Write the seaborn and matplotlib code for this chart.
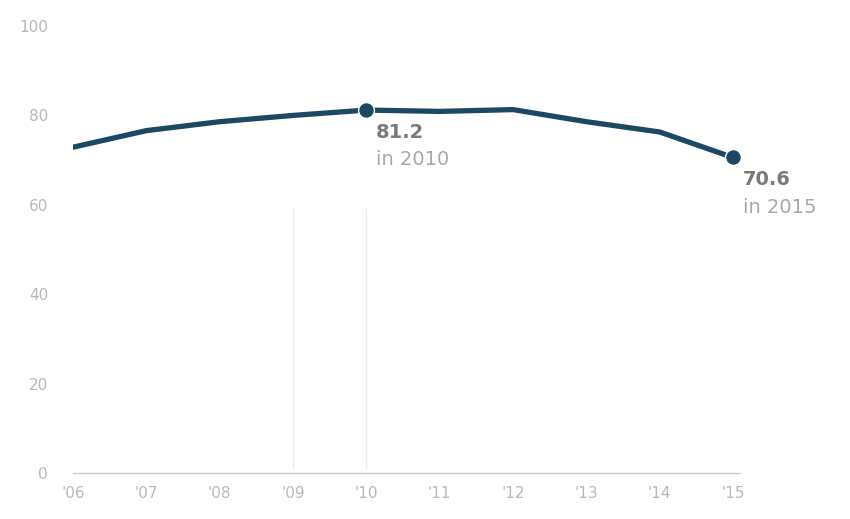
import matplotlib
matplotlib.use("Agg")
import matplotlib.pyplot as plt
import seaborn as sns
import pandas as pd

years = [2006, 2007, 2008, 2009, 2010, 2011, 2012, 2013, 2014, 2015]
values = [72.9, 76.6, 78.6, 80.0, 81.2, 80.9, 81.3, 78.6, 76.3, 70.6]
tick_labels = ["'06", "'07", "'08", "'09", "'10", "'11", "'12", "'13", "'14", "'15"]
y_ticks = [0, 20, 40, 60, 80, 100]
highlight_years = [2010, 2015]

sns.set_theme(style="white")
plt.rcParams['font.family'] = ['DejaVu Sans']

df = pd.DataFrame({"year": years, "value": values})
line_color = "#1d4864"
label_grey = "#b8b8b8"

fig = plt.figure(figsize=(8.5, 5.19), dpi=100)
ax = fig.add_axes([0.086, 0.088, 0.785, 0.862])

# faint reference lines
for yr in [2009, 2010]:
    ax.plot([yr, yr], [1, 59], color="#ececec", lw=1, zorder=0)

sns.lineplot(data=df, x="year", y="value", ax=ax, color=line_color, lw=3.8,
             solid_capstyle="round", solid_joinstyle="round", zorder=3)

hl = df[df["year"].isin(highlight_years)]
sns.scatterplot(data=hl, x="year", y="value", ax=ax, color=line_color, s=130,
                edgecolor="white", linewidth=1.0, zorder=4)

for _, r in hl.iterrows():
    ax.annotate(f"{r['value']:.1f}", (r["year"], r["value"]), xytext=(7, -9),
                textcoords="offset points", ha="left", va="top",
                fontsize=14, fontweight="bold", color="#7a7a7a")
    ax.annotate(f"in {int(r['year'])}", (r["year"], r["value"]), xytext=(7, -29),
                textcoords="offset points", ha="left", va="top",
                fontsize=14, color="#a8a8a8")

ax.set_xlim(2006, 2015.1)
ax.set_ylim(0, 100)
ax.set_yticks(y_ticks)
ax.set_yticklabels([str(v) for v in y_ticks], color=label_grey, fontsize=11)
ax.set_xticks(years)
ax.set_xticklabels(tick_labels, color=label_grey, fontsize=11)
ax.tick_params(axis="x", length=6, width=0.8, color="#cccccc", pad=3, direction="out")
ax.tick_params(axis="y", length=0, pad=18)
for side in ["top", "right", "left"]:
    ax.spines[side].set_visible(False)
ax.spines["bottom"].set_color("#cccccc")
ax.spines["bottom"].set_linewidth(1)
ax.set_xlabel("")
ax.set_ylabel("")
ax.grid(False)

fig.savefig("out.png", dpi=100, facecolor="white")
